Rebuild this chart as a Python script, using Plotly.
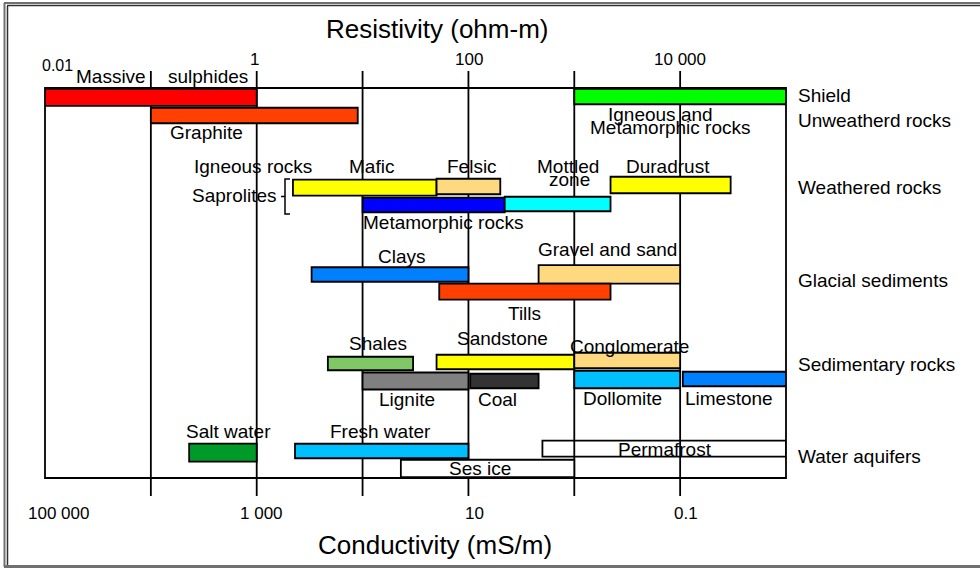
import math
import plotly.graph_objects as go

# ---------------- data ----------------
materials = ["Massive sulphides", "Shield", "Graphite", "Igneous rocks (mafic saprolite)",
             "Felsic", "Metamorphic rocks", "Mottled zone", "Duradrust",
             "Gravel and sand", "Clays", "Tills",
             "Shales", "Sandstone", "Conglomerate", "Lignite", "Coal", "Dollomite", "Limestone",
             "Salt water", "Fresh water", "Permafrost", "Ses ice"]
res_low = [0.01, 1000, 0.1, 2.2, 50, 10, 220, 2200,
           460, 3.3, 53,
           4.7, 50, 1000, 10, 104, 1000, 10600,
           0.23, 2.3, 500, 23]
res_high = [1, 100000, 9, 50, 200, 220, 2200, 30000,
            10000, 100, 2200,
            30, 1000, 10000, 100, 460, 10000, 100000,
            1, 100, 100000, 1000]
bar_colors = ["#FF0000", "#00FF00", "#FF4000", "#FFFF00", "#FFD980", "#0000FF", "#00FFFF", "#FFFF00",
              "#FFD980", "#0080FF", "#FF4000",
              "#80C866", "#FFFF00", "#FFD980", "#808080", "#333333", "#00BFFF", "#0080FF",
              "#009A28", "#00BFFF", "rgba(0,0,0,0)", "#FFFFFF"]

groups = ["Shield", "Unweatherd rocks", "Weathered rocks", "Glacial sediments",
          "Sedimentary rocks", "Water aquifers"]

res_tick_vals = [0.01, 1, 100, 10000]
res_tick_text = ["0.01", "1", "100", "10 000"]
cond_tick_vals = [100000, 1000, 10, 0.1]          # mS/m
cond_tick_text = ["100 000", "1 000", "10", "0.1"]
grid_decades = [0.1, 1, 10, 100, 1000, 10000]

# ---------------- layout (positions / sizes) ----------------
W, H = 980, 568
L, R, T, B = 45, 786, 88, 478           # plot box in pixels
def PX(px):  # pixel -> paper x
    return (px - L) / (R - L)
def PY(py):  # pixel -> paper y
    return (B - py) / (B - T)

# lane centres (y, measured from plot top) and thickness for each bar
bar_lane = [9.3, 8.5, 27.5, 99.7, 98.5, 117, 116, 97,
            186.3, 186.5, 203.7,
            275.5, 274, 272.5, 293, 293, 291.5, 291,
            364.7, 363, 360.7, 380.5]
bar_thick = [17, 15.5, 15.5, 16, 15.5, 14.5, 14.5, 16.5,
             18.5, 14.5, 16,
             13.5, 14.5, 15.5, 17, 14.5, 17.5, 14.5,
             18, 14.5, 16, 17.5]

FONT = "Liberation Sans, Arial, sans-serif"

fig = go.Figure()
fig.add_trace(go.Bar(
    orientation="h",
    y=bar_lane,
    base=res_low,
    x=[h - l for l, h in zip(res_low, res_high)],
    width=bar_thick,
    marker=dict(color=bar_colors, line=dict(color="black", width=1.8)),
    hovertext=materials, hoverinfo="text",
))

shapes = []
# decade lines (extend beyond the box)
for v in grid_decades:
    shapes.append(dict(type="line", xref="x", yref="paper", x0=v, x1=v,
                       y0=PY(496), y1=PY(71), line=dict(color="black", width=1.8), layer="below"))
# plot box
shapes.append(dict(type="rect", xref="paper", yref="paper", x0=0, x1=1, y0=0, y1=1,
                   line=dict(color="black", width=1.8), layer="below"))
# bracket for saprolites
shapes.append(dict(type="path", xref="paper", yref="paper",
                   path=f"M {PX(290)},{PY(179)} L {PX(285)},{PY(179)} L {PX(285)},{PY(214)} L {PX(290)},{PY(214)} "
                        f"M {PX(285)},{PY(196.5)} L {PX(281)},{PY(196.5)}",
                   line=dict(color="black", width=1.5)))
# outer frame of the picture
shapes += [
    dict(type="line", xref="paper", yref="paper", x0=PX(4.5), x1=PX(4.5), y0=PY(3), y1=PY(567),
         line=dict(color="#707070", width=2)),
    dict(type="line", xref="paper", yref="paper", x0=PX(4), x1=PX(980), y0=PY(3), y1=PY(3),
         line=dict(color="#707070", width=2)),
    dict(type="line", xref="paper", yref="paper", x0=PX(7.5), x1=PX(7.5), y0=PY(6), y1=PY(565),
         line=dict(color="#303030", width=1.5)),
    dict(type="line", xref="paper", yref="paper", x0=PX(7), x1=PX(980), y0=PY(5.5), y1=PY(5.5),
         line=dict(color="#303030", width=1.5)),
    dict(type="line", xref="paper", yref="paper", x0=PX(4), x1=PX(980), y0=PY(566.5), y1=PY(566.5),
         line=dict(color="#707070", width=3)),
]

ann = []
def lab(text, logx, ypx, size=19, xanchor="center"):
    ann.append(dict(text=text, x=logx, y=PY(ypx), xref="x", yref="paper", showarrow=False,
                    xanchor=xanchor, yanchor="middle", font=dict(size=size, color="black", family=FONT)))

# material labels: (text, log10 resistivity of centre, y pixel)
labels = [("Massive", -1.377, 76), ("sulphides", -0.46, 76), ("Graphite", -0.47, 132),
          ("Igneous rocks", -0.035, 166), ("Mafic", 1.089, 166), ("Felsic", 2.034, 166),
          ("Metamorphic rocks", 1.76, 222), ("Mottled", 2.941, 166), ("zone", 2.959, 179),
          ("Duradrust", 3.885, 166), ("Igneous and", 3.81, 115), ("Metamorphic rocks", 3.913, 128),
          ("Clays", 1.372, 256), ("Gravel and sand", 3.309, 249), ("Tills", 2.525, 313),
          ("Shales", 1.146, 343), ("Sandstone", 2.326, 338), ("Conglomerate", 3.517, 346),
          ("Lignite", 1.42, 399), ("Coal", 2.279, 399), ("Dollomite", 3.46, 398), ("Limestone", 4.461, 398),
          ("Salt water", -0.262, 431), ("Fresh water", 1.165, 431), ("Permafrost", 3.857, 449),
          ("Ses ice", 2.109, 468)]
for t, lx, yp in labels:
    lab(t, lx, yp)
lab("Saprolites", 0.21, 195, xanchor="right")

# group labels on the right
group_y = [95, 120, 187, 280, 365, 456]
for g, yp in zip(groups, group_y):
    ann.append(dict(text=g, x=1, xref="paper", xshift=10, y=PY(yp), yref="paper", showarrow=False,
                    xanchor="left", yanchor="middle", font=dict(size=19, color="black", family=FONT)))

# resistivity tick labels (top)
res_shift = [12, -2, 1, 0]
res_ty = [65, 59, 59, 59]
res_size = [16, 17, 17, 17]
for v, t, sh, yp, sz in zip(res_tick_vals, res_tick_text, res_shift, res_ty, res_size):
    ann.append(dict(text=t, x=math.log10(v), xref="x", xshift=sh, y=PY(yp), yref="paper", showarrow=False,
                    xanchor="center", yanchor="middle", font=dict(size=sz, color="black", family=FONT)))
# conductivity tick labels (bottom): resistivity = 1000 / conductivity
cond_shift = [13, 5, 6, 6]
for c, t, sh in zip(cond_tick_vals, cond_tick_text, cond_shift):
    ann.append(dict(text=t, x=math.log10(1000 / c), xref="x", xshift=sh, y=PY(513), yref="paper",
                    showarrow=False, xanchor="center", yanchor="middle",
                    font=dict(size=17, color="black", family=FONT)))

# axis titles
ann.append(dict(text="Resistivity (ohm-m)", x=PX(437), y=PY(29), xref="paper", yref="paper", showarrow=False,
                xanchor="center", yanchor="middle", font=dict(size=26, color="black", family=FONT)))
ann.append(dict(text="Conductivity (mS/m)", x=PX(435), y=PY(545), xref="paper", yref="paper", showarrow=False,
                xanchor="center", yanchor="middle", font=dict(size=26, color="black", family=FONT)))

fig.update_layout(
    width=W, height=H,
    margin=dict(l=L, r=W - R, t=T, b=H - B, pad=0),
    paper_bgcolor="white", plot_bgcolor="white",
    showlegend=False, barmode="overlay",
    font=dict(family=FONT, color="black"),
    xaxis=dict(type="log", range=[-2, 5], showgrid=False, zeroline=False, showline=False,
               showticklabels=False, ticks="", fixedrange=True),
    yaxis=dict(range=[B - T, 0], showgrid=False, zeroline=False, showline=False,
               showticklabels=False, ticks="", fixedrange=True),
    shapes=shapes, annotations=ann,
)

fig.write_html("out.html", config={"displayModeBar": False},
               post_script="document.body.style.margin='0';document.body.style.overflow='hidden';")
